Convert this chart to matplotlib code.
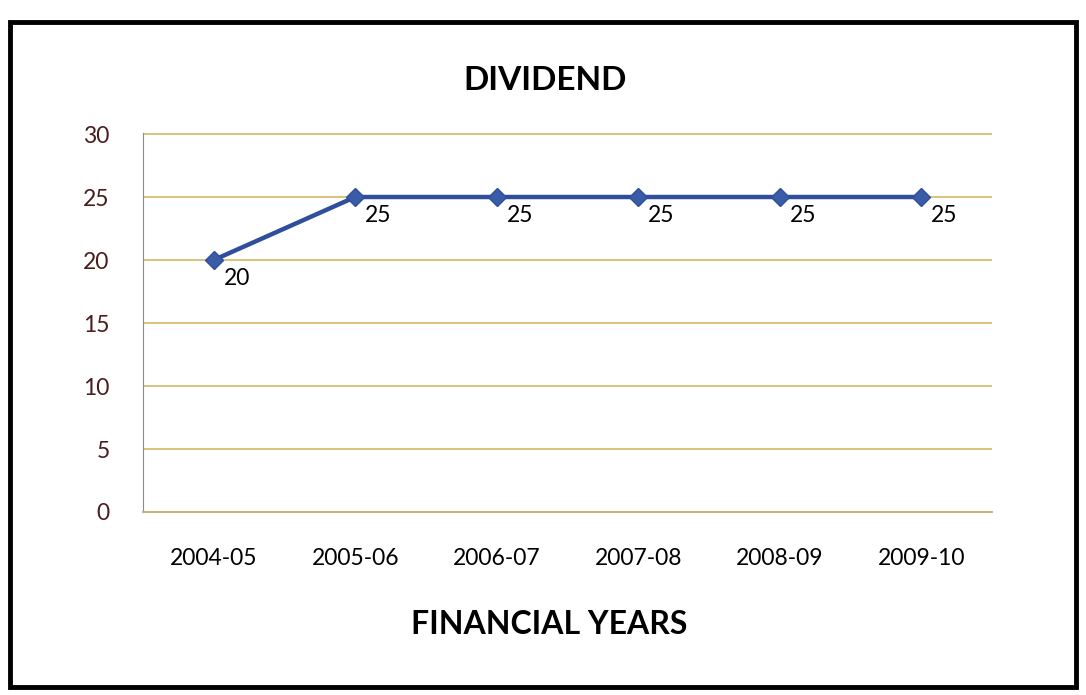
import numpy as np
import matplotlib.pyplot as plt
from matplotlib.patches import Rectangle

years = ['2004-05', '2005-06', '2006-07', '2007-08', '2008-09', '2009-10']
dividend = [20, 25, 25, 25, 25, 25]
yticks = [0, 5, 10, 15, 20, 25, 30]

plt.rcParams['font.family'] = ['Lato', 'DejaVu Sans']

fig = plt.figure(figsize=(10.86, 6.95), dpi=100)
ax = fig.add_axes([143 / 1086, 1 - 512 / 695, (992 - 143) / 1086, (512 - 133) / 695])

x = np.arange(len(years))
ax.plot(x, dividend, color='#2f4f9c', lw=3.2, marker='D', ms=9,
        markerfacecolor='#3a5ba6', markeredgecolor='#2f4f9c', zorder=3)
for xi, v in zip(x, dividend):
    ax.annotate(str(v), (xi, v), xytext=(7, -13), textcoords='offset points',
                fontsize=16.5, ha='left', va='center', color='black')

ax.set_xlim(-0.5, len(years) - 0.5)
ax.set_ylim(0, 30.08)
ax.set_yticks(yticks)
ax.set_xticks(x)
ax.set_xticklabels(years)
ax.yaxis.grid(True, color='#d8c27c', lw=1.4)
ax.set_axisbelow(True)
for s in ['top', 'right']:
    ax.spines[s].set_visible(False)
ax.spines['left'].set_color('#8c8c8c')
ax.spines['bottom'].set_color('#c9b57a')
ax.spines['bottom'].set_linewidth(1.5)
ax.tick_params(axis='y', length=0, pad=24, labelsize=16.5, labelcolor='#4a1c1c')
ax.tick_params(axis='x', length=0, pad=26, labelsize=16.5, labelcolor='black')

fig.text(545 / 1086, 1 - 80 / 695, 'DIVIDEND', ha='center', va='center',
         fontsize=24, fontweight='bold')
fig.text(549 / 1086, 1 - 625 / 695, 'FINANCIAL YEARS', ha='center', va='center',
         fontsize=23, fontweight='bold')

fig.patches.append(Rectangle((10 / 1086, 8 / 695), 1066 / 1086, 665 / 695,
                             transform=fig.transFigure, fill=False,
                             edgecolor='black', lw=3.5))

fig.savefig('out.png', dpi=100)
